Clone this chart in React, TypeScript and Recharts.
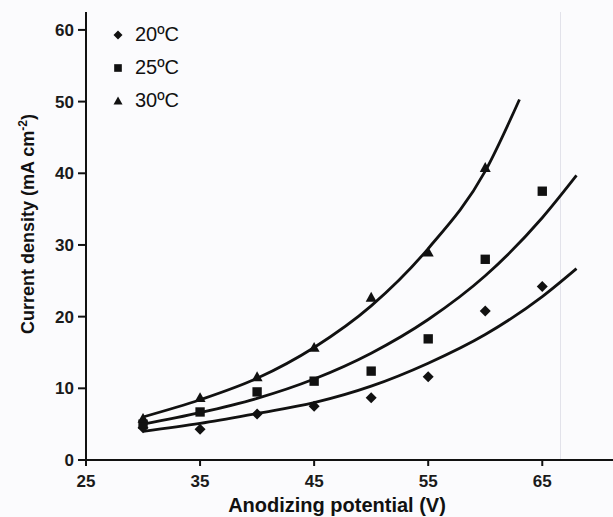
import { ComposedChart, Line, Scatter, XAxis, YAxis, ReferenceLine } from "recharts";

const voltages = [30, 35, 40, 45, 50, 55, 60, 65];
const d20 = [4.5, 4.3, 6.4, 7.5, 8.7, 11.6, 20.8, 24.2];
const d25 = [5.0, 6.7, 9.5, 11.0, 12.4, 16.9, 28.0, 37.5];
const d30 = [5.8, 8.7, 11.6, 15.7, 22.7, 29.0, 40.8];

// fitted curves
const fitX20 = [30, 35, 40, 45, 50, 55, 60, 65, 68];
const fit20 = [4.0, 5.1, 6.5, 8.0, 10.3, 13.5, 17.5, 22.8, 26.7];
const fitX25 = [30, 35, 40, 45, 50, 55, 60, 65, 68];
const fit25 = [5.0, 6.6, 8.6, 11.3, 14.9, 19.6, 25.7, 33.8, 39.7];
const fitX30 = [30, 35, 40, 45, 50, 55, 60, 63];
const fit30 = [6.0, 8.4, 11.4, 15.7, 21.5, 29.5, 40.3, 50.3];

const xTicks = [25, 35, 45, 55, 65];
const yTicks = [0, 10, 20, 30, 40, 50, 60];

const series = [
  { name: "20ºC", shape: "diamond", ys: d20, fx: fitX20, fy: fit20 },
  { name: "25ºC", shape: "square", ys: d25, fx: fitX25, fy: fit25 },
  { name: "30ºC", shape: "triangle", ys: d30, fx: fitX30, fy: fit30 },
];

const pts = (xs: number[], ys: number[]) => ys.map((y, i) => ({ x: xs[i], y }));

const font = "Liberation Sans, Arial, sans-serif";
const tickStyle = { fontSize: 17, fontWeight: 700, fill: "#1a1a1a", fontFamily: font };

function marker(kind: string, cx: number, cy: number, r: number) {
  if (kind === "diamond")
    return <polygon points={`${cx},${cy - r} ${cx + r},${cy} ${cx},${cy + r} ${cx - r},${cy}`} fill="#111" />;
  if (kind === "square")
    return <rect x={cx - r * 0.85} y={cy - r * 0.85} width={r * 1.7} height={r * 1.7} fill="#111" />;
  return <polygon points={`${cx},${cy - r} ${cx + r},${cy + r * 0.8} ${cx - r},${cy + r * 0.8}`} fill="#111" />;
}

function LegendBox() {
  return (
    <div style={{ position: "absolute", left: 112, top: 18, fontFamily: font, fontSize: 20, color: "#111" }}>
      {series.map((s) => (
        <div key={s.name} style={{ display: "flex", alignItems: "center", height: 33 }}>
          <svg width={12} height={12} style={{ marginRight: 11 }}>{marker(s.shape, 6, 6, 4.5)}</svg>
          <span>{s.name}</span>
        </div>
      ))}
    </div>
  );
}

export default function App() {
  return (
    <div style={{ position: "absolute", left: 0, top: 0, width: 613, height: 517, background: "#fbfbfd" }}>
      <ComposedChart width={613} height={517} margin={{ top: 12, right: 0, left: 26, bottom: 27 }}>
        <XAxis
          type="number"
          dataKey="x"
          domain={[25, 71.2]}
          ticks={xTicks}
          tick={tickStyle}
          tickLine={{ stroke: "#111", strokeWidth: 2 }}
          tickSize={6}
          tickMargin={9}
          axisLine={{ stroke: "#111", strokeWidth: 2 }}
          allowDataOverflow
        />
        <YAxis
          type="number"
          dataKey="y"
          width={60}
          domain={[0, 62.5]}
          ticks={yTicks}
          tick={tickStyle}
          tickLine={{ stroke: "#111", strokeWidth: 2 }}
          tickSize={8}
          tickMargin={4}
          axisLine={{ stroke: "#111", strokeWidth: 2 }}
        />
        <ReferenceLine x={66.6} stroke="#e2e2ea" strokeWidth={1} />
        {series.map((s) => (
          <Line
            key={s.name + "fit"}
            data={pts(s.fx, s.fy)}
            dataKey="y"
            type="monotone"
            stroke="#111"
            strokeWidth={2.8}
            dot={false}
            legendType="none"
            isAnimationActive={false}
          />
        ))}
        {series.map((s) => (
          <Scatter
            key={s.name}
            name={s.name}
            data={pts(voltages, s.ys)}
            fill="#111"
            shape={(p: any) => marker(s.shape, p.cx, p.cy, 5.5)}
            isAnimationActive={false}
          />
        ))}
      </ComposedChart>
      <LegendBox />
      <div
        style={{
          position: "absolute",
          left: 27,
          top: 224,
          transform: "translate(-50%, -50%) rotate(-90deg)",
          whiteSpace: "nowrap",
          fontFamily: font,
          fontWeight: 700,
          fontSize: 18,
          color: "#111",
        }}
      >
        Current density (mA cm<sup style={{ fontSize: 12 }}>-2</sup>)
      </div>
      <div
        style={{
          position: "absolute",
          left: 337,
          top: 505,
          transform: "translate(-50%, -50%)",
          whiteSpace: "nowrap",
          fontFamily: font,
          fontWeight: 700,
          fontSize: 20,
          color: "#111",
        }}
      >
        Anodizing potential (V)
      </div>
    </div>
  );
}
